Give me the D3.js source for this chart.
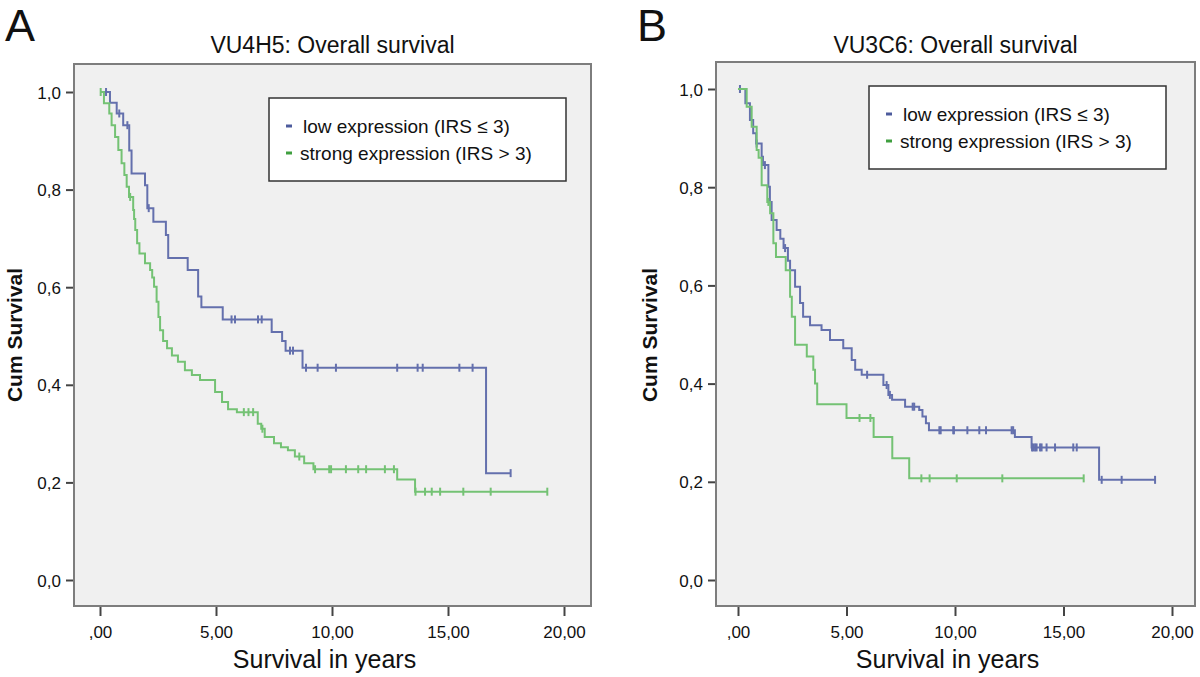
<!DOCTYPE html>
<html>
<head>
<meta charset="utf-8">
<script src="https://cdn.jsdelivr.net/npm/d3@7.9.0/dist/d3.min.js"></script>
<style>
  body { margin: 0; background: #fff; }
  svg text { font-family: "Liberation Sans", Arial, sans-serif; fill: #111; }
</style>
</head>
<body>
<svg id="chart" width="1200" height="677"></svg>
<script>
// Shared axis values
const xTicks = [0, 5, 10, 15, 20];
const yTicks = [0, 0.2, 0.4, 0.6, 0.8, 1.0];
const groupNames = ['low expression (IRS \u2264 3)', 'strong expression (IRS > 3)'];
const panelLetters = ['A', 'B'];
const panelTitles = ['VU4H5: Overall survival', 'VU3C6: Overall survival'];

// Panel A, low expression: [time, survival after the drop]
const aLowSteps = [[0, 1.0], [0.43, 0.978], [0.72, 0.956], [1.0, 0.932], [1.26, 0.88], [1.36, 0.833],
  [1.94, 0.809], [2.04, 0.762], [2.3, 0.734], [2.84, 0.707], [2.94, 0.66], [3.78, 0.635],
  [4.23, 0.581], [4.37, 0.559], [5.29, 0.534], [7.4, 0.508], [7.85, 0.49], [8.0, 0.47],
  [8.73, 0.435], [16.64, 0.219]];
const aLowCensored = [0.26, 0.83, 1.18, 2.1, 5.67, 5.82, 6.81, 6.97, 8.19, 8.32, 8.88, 9.38,
  10.17, 12.81, 13.69, 13.91, 15.49, 16.06, 17.7];

// Panel A, strong expression
const aStrongSteps = [[0, 1.0], [0.17, 0.977], [0.4, 0.956], [0.5, 0.932], [0.65, 0.908], [0.79, 0.881],
  [0.93, 0.854], [1.05, 0.83], [1.15, 0.806], [1.25, 0.785], [1.43, 0.758], [1.47, 0.74],
  [1.52, 0.717], [1.6, 0.69], [1.7, 0.669], [1.94, 0.649], [2.16, 0.635], [2.25, 0.62],
  [2.33, 0.601], [2.44, 0.57], [2.52, 0.539], [2.59, 0.512], [2.72, 0.49], [2.89, 0.475],
  [3.1, 0.46], [3.36, 0.447], [3.66, 0.43], [3.96, 0.42], [4.31, 0.41], [4.96, 0.385],
  [5.26, 0.365], [5.52, 0.35], [5.9, 0.344], [6.8, 0.32], [6.95, 0.31], [7.1, 0.293],
  [7.5, 0.28], [7.8, 0.272], [8.1, 0.266], [8.4, 0.253], [8.8, 0.239], [9.2, 0.227],
  [12.81, 0.206], [13.58, 0.181]];
const aStrongCensored = [0.03, 1.3, 6.2, 6.4, 6.6, 7.0, 8.59, 9.27, 9.88, 9.96, 10.6, 11.13, 11.47,
  12.28, 12.67, 13.6, 14.01, 14.3, 14.66, 15.66, 16.84, 19.28];

// Panel B, low expression
const bLowSteps = [[0, 1.0], [0.34, 0.971], [0.55, 0.937], [0.7, 0.91], [0.84, 0.889], [1.09, 0.862],
  [1.15, 0.845], [1.4, 0.801], [1.47, 0.77], [1.55, 0.733], [1.78, 0.713], [1.95, 0.695],
  [2.1, 0.676], [2.3, 0.65], [2.4, 0.631], [2.63, 0.597], [2.86, 0.564], [3.0, 0.536],
  [3.32, 0.519], [3.85, 0.509], [4.24, 0.489], [4.85, 0.472], [5.24, 0.448], [5.4, 0.428],
  [5.7, 0.418], [6.7, 0.397], [6.93, 0.377], [7.1, 0.367], [7.7, 0.353], [8.35, 0.346],
  [8.5, 0.333], [8.66, 0.319], [8.8, 0.305], [12.76, 0.291], [13.53, 0.27], [16.64, 0.204]];
const bLowCensored = [0.09, 0.86, 1.24, 2.17, 5.95, 6.85, 7.0, 8.05, 8.12, 9.28, 9.34, 9.92, 9.95,
  10.57, 11.12, 11.43, 12.61, 12.68, 13.55, 13.61, 13.69, 13.76, 13.92, 13.99, 14.22, 14.61,
  15.45, 15.61, 16.76, 17.68, 19.22];

// Panel B, strong expression
const bStrongSteps = [[0, 1.0], [0.4, 0.964], [0.63, 0.923], [0.86, 0.876], [0.95, 0.86], [1.09, 0.804],
  [1.35, 0.77], [1.48, 0.747], [1.63, 0.686], [1.75, 0.658], [2.2, 0.631], [2.4, 0.577],
  [2.48, 0.536], [2.63, 0.479], [3.17, 0.455], [3.47, 0.428], [3.55, 0.4], [3.65, 0.358],
  [5.0, 0.33], [6.25, 0.291], [7.11, 0.248], [7.89, 0.207]];
const bStrongCensored = [1.4, 5.6, 6.1, 8.45, 8.83, 10.08, 12.18, 15.93];

const lineColors = ['#6470ad', '#74c274'];
const keyColors = ['#4d5b9c', '#3f9f3f'];

const svg = d3.select('#chart');

// Survival value at time t for a step series
function survivalAt(steps, t) {
  let s = steps[0][1];
  steps.forEach(([time, value]) => { if (time <= t) s = value; });
  return s;
}

function drawPanel(p) {
  const g = svg.append('g');
  const x = d3.scaleLinear().domain([0, 20]).range([p.x0, p.x20]);
  const y = d3.scaleLinear().domain([0, 1]).range([p.y0, p.y1]);

  // plot background and frame
  g.append('rect')
    .attr('x', p.left).attr('y', p.top)
    .attr('width', p.right - p.left).attr('height', p.bottom - p.top)
    .attr('fill', '#f0f0f0').attr('stroke', '#7d7d7d').attr('stroke-width', 2);

  // y axis
  const yAxis = g.append('g')
    .attr('transform', `translate(${p.left - 1},0)`)
    .call(d3.axisLeft(y).tickValues(yTicks).tickSize(7).tickPadding(5)
      .tickFormat((d) => d3.format('.1f')(d).replace('.', ',')));
  yAxis.select('.domain').remove();
  yAxis.selectAll('line').attr('stroke', '#444').attr('stroke-width', 2);
  yAxis.selectAll('text').attr('font-size', 17).attr('font-family', '"Liberation Sans", Arial, sans-serif')
    .attr('fill', '#111').attr('dy', '0.36em');

  // x axis
  const xAxis = g.append('g')
    .attr('transform', `translate(0,${p.bottom + 1})`)
    .call(d3.axisBottom(x).tickValues(xTicks).tickSize(9).tickPadding(10)
      .tickFormat((d) => (d === 0 ? ',00' : d3.format('.2f')(d).replace('.', ','))));
  xAxis.select('.domain').remove();
  xAxis.selectAll('line').attr('stroke', '#444').attr('stroke-width', 2);
  xAxis.selectAll('text').attr('font-size', 17).attr('font-family', '"Liberation Sans", Arial, sans-serif')
    .attr('fill', '#111');

  // survival curves
  const line = d3.line().x((d) => x(d[0])).y((d) => y(d[1])).curve(d3.curveStepAfter);
  p.series.forEach((s, i) => {
    const pts = s.steps.concat([[s.end, s.steps[s.steps.length - 1][1]]]);
    g.append('path').datum(pts)
      .attr('d', line).attr('fill', 'none')
      .attr('stroke', lineColors[i]).attr('stroke-width', 2);
    g.selectAll(null).data(s.censored).join('line')
      .attr('x1', (d) => x(d)).attr('x2', (d) => x(d))
      .attr('y1', (d) => y(survivalAt(s.steps, d)) - 4)
      .attr('y2', (d) => y(survivalAt(s.steps, d)) + 4)
      .attr('stroke', lineColors[i]).attr('stroke-width', 2);
  });

  // legend
  const lg = g.append('g').attr('transform', `translate(${p.legend[0]},${p.legend[1]})`);
  lg.append('rect').attr('width', 297).attr('height', 83)
    .attr('fill', '#fff').attr('stroke', '#333').attr('stroke-width', 1.5);
  groupNames.forEach((name, i) => {
    lg.append('line').attr('x1', 17).attr('x2', 23)
      .attr('y1', 28 + i * 27).attr('y2', 28 + i * 27)
      .attr('stroke', keyColors[i]).attr('stroke-width', 3);
    lg.append('text').attr('x', i === 0 ? 34 : 31).attr('y', 35 + i * 27)
      .attr('font-size', 19).text(name);
  });

  // titles
  svg.append('text').attr('x', p.letterX).attr('y', 41).attr('font-size', 45).text(p.letter);
  svg.append('text').attr('x', (p.left + p.right) / 2).attr('y', 53)
    .attr('text-anchor', 'middle').attr('font-size', 23).text(p.title);
  svg.append('text').attr('x', (p.left + p.right) / 2 - 8).attr('y', 668)
    .attr('text-anchor', 'middle').attr('font-size', 25).text('Survival in years');
  svg.append('text')
    .attr('transform', `translate(${p.yLabelX},${335}) rotate(-90)`)
    .attr('text-anchor', 'middle').attr('font-size', 21).attr('font-weight', 'bold')
    .text('Cum Survival');
}

drawPanel({
  letter: panelLetters[0], letterX: 5, title: panelTitles[0],
  left: 74, top: 64, right: 591, bottom: 606,
  x0: 100, x20: 564, y0: 580, y1: 92,
  legend: [269, 98], yLabelX: 22,
  series: [
    { steps: aLowSteps, censored: aLowCensored, end: 17.7 },
    { steps: aStrongSteps, censored: aStrongCensored, end: 19.28 }
  ]
});

drawPanel({
  letter: panelLetters[1], letterX: 637, title: panelTitles[1],
  left: 716, top: 62, right: 1195, bottom: 606,
  x0: 738, x20: 1172, y0: 580, y1: 89,
  legend: [869, 86], yLabelX: 657,
  series: [
    { steps: bLowSteps, censored: bLowCensored, end: 19.22 },
    { steps: bStrongSteps, censored: bStrongCensored, end: 15.93 }
  ]
});
</script>
</body>
</html>
